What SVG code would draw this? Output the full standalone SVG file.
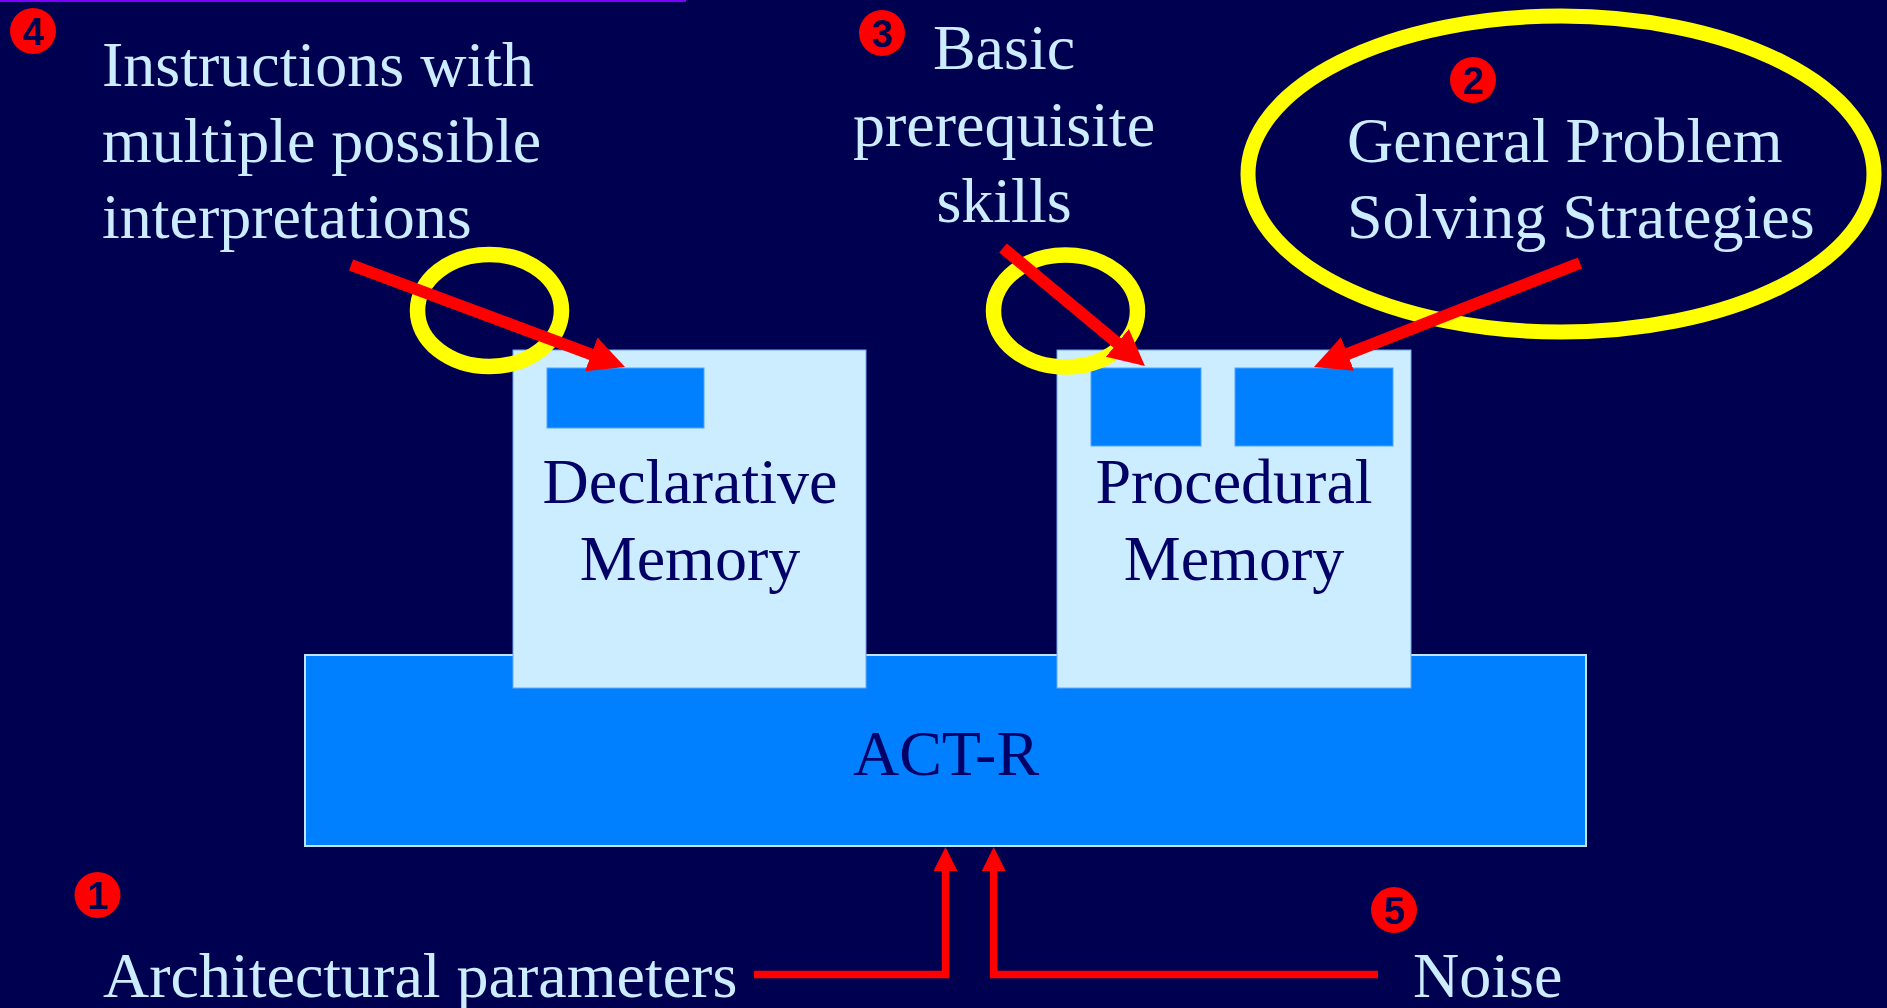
<svg xmlns="http://www.w3.org/2000/svg" width="1887" height="1008" viewBox="0 0 1887 1008">
  <style>
    .lbl { font-family: "Liberation Serif", "Times New Roman", serif; font-size: 64px; fill: #CCECFF; }
    .dark { font-family: "Liberation Serif", "Times New Roman", serif; font-size: 64px; fill: #000066; text-anchor: middle; }
    .badge circle { fill: #FF0000; }
    .badge text { font-family: "Liberation Sans", Arial, sans-serif; font-weight: bold; font-size: 38px; fill: #000050; text-anchor: middle; }
    .mem { fill: #CCECFF; stroke: #6FA8F0; stroke-width: 1; }
    .slot { fill: #0080FF; stroke: #4DA6FF; stroke-width: 1; }
    .ring { fill: none; stroke: #FFFF00; }
    .arr { stroke: #FF0000; fill: none; }
  </style>
  <defs>
    <marker id="headBig" markerUnits="userSpaceOnUse" viewBox="0 0 36 36" markerWidth="36" markerHeight="36" refX="6" refY="18" orient="auto">
      <path d="M0,0 L36,18 L0,36 z" fill="#FF0000"/>
    </marker>
    <marker id="headSmall" markerUnits="userSpaceOnUse" viewBox="0 0 24 24" markerWidth="24" markerHeight="24" refX="4" refY="12" orient="auto">
      <path d="M0,0 L24,12 L0,24 z" fill="#FF0000"/>
    </marker>
  </defs>

  <rect x="0" y="0" width="1887" height="1008" fill="#000050"/>
  <rect x="0" y="0" width="686" height="2" fill="#8000FF"/>

  <g id="act-r">
    <rect x="305" y="655" width="1281" height="191" fill="#0080FF" stroke="#BFE3FF" stroke-width="2"/>
    <text class="dark" x="946" y="775">ACT-R</text>
  </g>

  <g id="declarative-memory">
    <rect class="mem" x="513" y="350" width="353" height="338"/>
    <rect class="slot" x="547" y="368" width="157" height="60"/>
    <text class="dark" x="690" y="503">Declarative</text>
    <text class="dark" x="690" y="580">Memory</text>
  </g>

  <g id="procedural-memory">
    <rect class="mem" x="1057" y="350" width="354" height="338"/>
    <rect class="slot" x="1091" y="368" width="110" height="78"/>
    <rect class="slot" x="1235" y="368" width="158" height="78"/>
    <text class="dark" x="1234" y="503">Procedural</text>
    <text class="dark" x="1234" y="580">Memory</text>
  </g>

  <g id="highlights">
    <ellipse class="ring" cx="489.5" cy="310.5" rx="72" ry="56" stroke-width="15.5"/>
    <ellipse class="ring" cx="1065.5" cy="311" rx="72" ry="56" stroke-width="15.5"/>
    <ellipse class="ring" cx="1561" cy="174" rx="313" ry="158" stroke-width="15"/>
  </g>

  <g id="label-4">
    <g class="badge"><circle cx="33" cy="31" r="23"/><text x="33" y="45">4</text></g>
    <text class="lbl" x="102" y="86">Instructions with</text>
    <text class="lbl" x="102" y="162">multiple possible</text>
    <text class="lbl" x="102" y="238">interpretations</text>
  </g>

  <g id="label-3">
    <g class="badge"><circle cx="882" cy="33" r="23"/><text x="882" y="47">3</text></g>
    <text class="lbl" x="1004" y="69" text-anchor="middle">Basic</text>
    <text class="lbl" x="1004" y="146" text-anchor="middle">prerequisite</text>
    <text class="lbl" x="1004" y="222" text-anchor="middle">skills</text>
  </g>

  <g id="label-2">
    <g class="badge"><circle cx="1473" cy="80" r="23"/><text x="1473" y="94">2</text></g>
    <text class="lbl" x="1347" y="162">General Problem</text>
    <text class="lbl" x="1347" y="238">Solving Strategies</text>
  </g>

  <g id="label-1">
    <g class="badge"><circle cx="97.5" cy="895" r="23"/><text x="97.5" y="909">1</text></g>
    <text class="lbl" x="103" y="997">Architectural parameters</text>
  </g>

  <g id="label-5">
    <g class="badge"><circle cx="1394" cy="910" r="23"/><text x="1394" y="924">5</text></g>
    <text class="lbl" x="1413" y="997">Noise</text>
  </g>

  <g id="connectors">
    <line class="arr" x1="351" y1="265" x2="596.9" y2="356.5" stroke-width="12" marker-end="url(#headBig)"/>
    <line class="arr" x1="1003" y1="248" x2="1121.9" y2="346.8" stroke-width="12" marker-end="url(#headBig)"/>
    <line class="arr" x1="1580" y1="263" x2="1341.9" y2="356.1" stroke-width="12" marker-end="url(#headBig)"/>
    <polyline class="arr" points="754,974.5 945.5,974.5 945.5,867" stroke-width="7.5" marker-end="url(#headSmall)"/>
    <polyline class="arr" points="1378,974.5 993.7,974.5 993.7,867" stroke-width="7.5" marker-end="url(#headSmall)"/>
  </g>
</svg>
